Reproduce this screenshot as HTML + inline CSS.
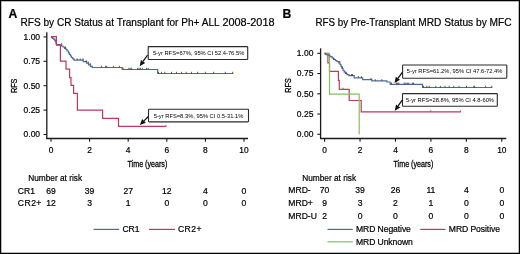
<!DOCTYPE html>
<html><head><meta charset="utf-8"><style>
html,body{margin:0;padding:0;background:#fff;}
body{width:520px;height:254px;overflow:hidden;}
svg{display:block;will-change:transform;font-family:"Liberation Sans", sans-serif;}
text{fill:#000;stroke:#000;stroke-width:0.2px;}
</style></head><body>
<svg width="520" height="254" viewBox="0 0 520 254">
<rect x="0" y="0" width="520" height="254" fill="#fff"/>
<rect x="1" y="1" width="518" height="252" fill="none" stroke="#777" stroke-width="1"/>
<rect x="0.5" y="0.5" width="519" height="253" fill="none" stroke="#000" stroke-width="1"/>
<text x="8.60" y="17.60" font-size="12.2" text-anchor="start" font-weight="bold" >A</text>
<text x="282.60" y="17.60" font-size="12.2" text-anchor="start" font-weight="bold" >B</text>
<text x="20.50" y="26.00" font-size="10.4" text-anchor="start" font-weight="normal" textLength="199.1" lengthAdjust="spacingAndGlyphs">RFS by CR Status at Transplant for Ph+ ALL</text>
<text x="222.40" y="26.00" font-size="10.4" text-anchor="start" font-weight="normal" textLength="52.2" lengthAdjust="spacingAndGlyphs">2008-2018</text>
<text x="315.40" y="26.00" font-size="10.4" text-anchor="start" font-weight="normal" textLength="99.8" lengthAdjust="spacingAndGlyphs">RFS by Pre-Transplant</text>
<text x="418.30" y="26.00" font-size="10.4" text-anchor="start" font-weight="normal" textLength="93.3" lengthAdjust="spacingAndGlyphs">MRD Status by MFC</text>
<line x1="46.8" y1="32.3" x2="46.8" y2="138.5" stroke="#1a1a1a" stroke-width="1.3"/>
<line x1="46.15" y1="138.5" x2="248.0" y2="138.5" stroke="#1a1a1a" stroke-width="1.3"/>
<line x1="43.5" y1="134.50" x2="46.8" y2="134.50" stroke="#1a1a1a" stroke-width="1.1"/>
<text x="40.10" y="137.40" font-size="8.5" text-anchor="end" font-weight="normal" >0.00</text>
<line x1="43.5" y1="110.10" x2="46.8" y2="110.10" stroke="#1a1a1a" stroke-width="1.1"/>
<text x="40.10" y="113.00" font-size="8.5" text-anchor="end" font-weight="normal" >0.25</text>
<line x1="43.5" y1="85.70" x2="46.8" y2="85.70" stroke="#1a1a1a" stroke-width="1.1"/>
<text x="40.10" y="88.60" font-size="8.5" text-anchor="end" font-weight="normal" >0.50</text>
<line x1="43.5" y1="61.30" x2="46.8" y2="61.30" stroke="#1a1a1a" stroke-width="1.1"/>
<text x="40.10" y="64.20" font-size="8.5" text-anchor="end" font-weight="normal" >0.75</text>
<line x1="43.5" y1="36.90" x2="46.8" y2="36.90" stroke="#1a1a1a" stroke-width="1.1"/>
<text x="40.10" y="39.80" font-size="8.5" text-anchor="end" font-weight="normal" >1.00</text>
<line x1="51.00" y1="138.5" x2="51.00" y2="141.7" stroke="#1a1a1a" stroke-width="1.1"/>
<text x="51.00" y="152.60" font-size="8.4" text-anchor="middle" font-weight="normal" >0</text>
<line x1="89.60" y1="138.5" x2="89.60" y2="141.7" stroke="#1a1a1a" stroke-width="1.1"/>
<text x="89.60" y="152.60" font-size="8.4" text-anchor="middle" font-weight="normal" >2</text>
<line x1="128.20" y1="138.5" x2="128.20" y2="141.7" stroke="#1a1a1a" stroke-width="1.1"/>
<text x="128.20" y="152.60" font-size="8.4" text-anchor="middle" font-weight="normal" >4</text>
<line x1="166.80" y1="138.5" x2="166.80" y2="141.7" stroke="#1a1a1a" stroke-width="1.1"/>
<text x="166.80" y="152.60" font-size="8.4" text-anchor="middle" font-weight="normal" >6</text>
<line x1="205.40" y1="138.5" x2="205.40" y2="141.7" stroke="#1a1a1a" stroke-width="1.1"/>
<text x="205.40" y="152.60" font-size="8.4" text-anchor="middle" font-weight="normal" >8</text>
<line x1="244.00" y1="138.5" x2="244.00" y2="141.7" stroke="#1a1a1a" stroke-width="1.1"/>
<text x="244.00" y="152.60" font-size="8.4" text-anchor="middle" font-weight="normal" >10</text>
<text transform="translate(13.5,85.8) rotate(-90) scale(0.75,1)" x="0" y="3.6" font-size="9.7" text-anchor="middle" style="stroke-width:0.3px">RFS</text>
<text transform="translate(147.4,167.0) scale(0.73,1)" x="0" y="0" font-size="9.8" text-anchor="middle" style="stroke-width:0.3px">Time (years)</text>
<line x1="320.6" y1="48.3" x2="320.6" y2="138.5" stroke="#1a1a1a" stroke-width="1.3"/>
<line x1="319.95000000000005" y1="138.5" x2="506.3" y2="138.5" stroke="#1a1a1a" stroke-width="1.3"/>
<line x1="317.3" y1="134.30" x2="320.6" y2="134.30" stroke="#1a1a1a" stroke-width="1.1"/>
<text x="313.40" y="137.20" font-size="8.5" text-anchor="end" font-weight="normal" >0.00</text>
<line x1="317.3" y1="114.05" x2="320.6" y2="114.05" stroke="#1a1a1a" stroke-width="1.1"/>
<text x="313.40" y="116.95" font-size="8.5" text-anchor="end" font-weight="normal" >0.25</text>
<line x1="317.3" y1="93.80" x2="320.6" y2="93.80" stroke="#1a1a1a" stroke-width="1.1"/>
<text x="313.40" y="96.70" font-size="8.5" text-anchor="end" font-weight="normal" >0.50</text>
<line x1="317.3" y1="73.55" x2="320.6" y2="73.55" stroke="#1a1a1a" stroke-width="1.1"/>
<text x="313.40" y="76.45" font-size="8.5" text-anchor="end" font-weight="normal" >0.75</text>
<line x1="317.3" y1="53.30" x2="320.6" y2="53.30" stroke="#1a1a1a" stroke-width="1.1"/>
<text x="313.40" y="56.20" font-size="8.5" text-anchor="end" font-weight="normal" >1.00</text>
<line x1="324.60" y1="138.5" x2="324.60" y2="141.7" stroke="#1a1a1a" stroke-width="1.1"/>
<text x="324.60" y="152.60" font-size="8.4" text-anchor="middle" font-weight="normal" >0</text>
<line x1="360.04" y1="138.5" x2="360.04" y2="141.7" stroke="#1a1a1a" stroke-width="1.1"/>
<text x="360.04" y="152.60" font-size="8.4" text-anchor="middle" font-weight="normal" >2</text>
<line x1="395.48" y1="138.5" x2="395.48" y2="141.7" stroke="#1a1a1a" stroke-width="1.1"/>
<text x="395.48" y="152.60" font-size="8.4" text-anchor="middle" font-weight="normal" >4</text>
<line x1="430.92" y1="138.5" x2="430.92" y2="141.7" stroke="#1a1a1a" stroke-width="1.1"/>
<text x="430.92" y="152.60" font-size="8.4" text-anchor="middle" font-weight="normal" >6</text>
<line x1="466.36" y1="138.5" x2="466.36" y2="141.7" stroke="#1a1a1a" stroke-width="1.1"/>
<text x="466.36" y="152.60" font-size="8.4" text-anchor="middle" font-weight="normal" >8</text>
<line x1="501.80" y1="138.5" x2="501.80" y2="141.7" stroke="#1a1a1a" stroke-width="1.1"/>
<text x="501.80" y="152.60" font-size="8.4" text-anchor="middle" font-weight="normal" >10</text>
<text transform="translate(287.6,85.5) rotate(-90) scale(0.75,1)" x="0" y="3.6" font-size="9.7" text-anchor="middle" style="stroke-width:0.3px">RFS</text>
<text transform="translate(413.4,167.0) scale(0.73,1)" x="0" y="0" font-size="9.8" text-anchor="middle" style="stroke-width:0.3px">Time (years)</text>
<path d="M50.9,36.9 H51.6 V37.7 H52.6 V38.4 H53.6 V39.2 H54.6 V40.2 H55.4 V41.5 H56.0 V43.2 H56.5 V44.6 H60.5 V45.2 H61.5 V46 H63 V47 H64.5 V48.3 H66 V49.5 H67 V51 H68.5 V52.8 H69.5 V54.5 H70.5 V56 H71.5 V57.5 H72.8 V58.8 H74 V60.1 H83.3 V61.7 H86.5 V63.2 H88.5 V64.8 H90.5 V66.3 H92.2 V67.5 H122.2 V69.5 H157.7 V73.5 H233.3" fill="none" stroke="#4c6a9f" stroke-width="1.2" stroke-linejoin="miter" stroke-linecap="butt"/>
<line x1="61.7" y1="42.9" x2="61.7" y2="44.6" stroke="#333" stroke-width="0.8"/>
<line x1="65.5" y1="46.6" x2="65.5" y2="48.3" stroke="#333" stroke-width="0.8"/>
<line x1="77.2" y1="58.4" x2="77.2" y2="60.1" stroke="#333" stroke-width="0.8"/>
<line x1="80.2" y1="58.4" x2="80.2" y2="60.1" stroke="#333" stroke-width="0.8"/>
<line x1="83.0" y1="58.4" x2="83.0" y2="60.1" stroke="#333" stroke-width="0.8"/>
<line x1="86.2" y1="60.0" x2="86.2" y2="61.7" stroke="#333" stroke-width="0.8"/>
<line x1="88.2" y1="61.5" x2="88.2" y2="63.2" stroke="#333" stroke-width="0.8"/>
<line x1="90.2" y1="63.1" x2="90.2" y2="64.8" stroke="#333" stroke-width="0.8"/>
<line x1="101.4" y1="65.8" x2="101.4" y2="67.5" stroke="#333" stroke-width="0.8"/>
<line x1="105.6" y1="65.8" x2="105.6" y2="67.5" stroke="#333" stroke-width="0.8"/>
<line x1="106.6" y1="65.8" x2="106.6" y2="67.5" stroke="#333" stroke-width="0.8"/>
<line x1="113.3" y1="65.8" x2="113.3" y2="67.5" stroke="#333" stroke-width="0.8"/>
<line x1="119.4" y1="65.8" x2="119.4" y2="67.5" stroke="#333" stroke-width="0.8"/>
<line x1="123.1" y1="67.8" x2="123.1" y2="69.5" stroke="#333" stroke-width="0.8"/>
<line x1="128.8" y1="67.8" x2="128.8" y2="69.5" stroke="#333" stroke-width="0.8"/>
<line x1="130.2" y1="67.8" x2="130.2" y2="69.5" stroke="#333" stroke-width="0.8"/>
<line x1="131.6" y1="67.8" x2="131.6" y2="69.5" stroke="#333" stroke-width="0.8"/>
<line x1="137.7" y1="67.8" x2="137.7" y2="69.5" stroke="#333" stroke-width="0.8"/>
<line x1="139.0" y1="67.8" x2="139.0" y2="69.5" stroke="#333" stroke-width="0.8"/>
<line x1="140.4" y1="67.8" x2="140.4" y2="69.5" stroke="#333" stroke-width="0.8"/>
<line x1="142.3" y1="67.8" x2="142.3" y2="69.5" stroke="#333" stroke-width="0.8"/>
<line x1="146.5" y1="67.8" x2="146.5" y2="69.5" stroke="#333" stroke-width="0.8"/>
<line x1="148.1" y1="67.8" x2="148.1" y2="69.5" stroke="#333" stroke-width="0.8"/>
<line x1="158.5" y1="71.8" x2="158.5" y2="73.5" stroke="#333" stroke-width="0.8"/>
<line x1="161.5" y1="71.8" x2="161.5" y2="73.5" stroke="#333" stroke-width="0.8"/>
<line x1="164.8" y1="71.8" x2="164.8" y2="73.5" stroke="#333" stroke-width="0.8"/>
<line x1="171.5" y1="71.8" x2="171.5" y2="73.5" stroke="#333" stroke-width="0.8"/>
<line x1="176.5" y1="71.8" x2="176.5" y2="73.5" stroke="#333" stroke-width="0.8"/>
<line x1="181.5" y1="71.8" x2="181.5" y2="73.5" stroke="#333" stroke-width="0.8"/>
<line x1="186.2" y1="71.8" x2="186.2" y2="73.5" stroke="#333" stroke-width="0.8"/>
<line x1="191.5" y1="71.8" x2="191.5" y2="73.5" stroke="#333" stroke-width="0.8"/>
<line x1="197.6" y1="71.8" x2="197.6" y2="73.5" stroke="#333" stroke-width="0.8"/>
<line x1="205.4" y1="71.8" x2="205.4" y2="73.5" stroke="#333" stroke-width="0.8"/>
<line x1="213.6" y1="71.8" x2="213.6" y2="73.5" stroke="#333" stroke-width="0.8"/>
<line x1="225.3" y1="71.8" x2="225.3" y2="73.5" stroke="#333" stroke-width="0.8"/>
<line x1="232.7" y1="71.8" x2="232.7" y2="73.5" stroke="#333" stroke-width="0.8"/>
<path d="M50.9,36.7 H56.4 V45.1 H60.4 V61.2 H66 V69.2 H69.6 V77.7 H71 V85.3 H73.6 V93.3 H77.4 V110.2 H102.6 V118.3 H118.5 V126.4 H166.2" fill="none" stroke="#bf395b" stroke-width="1.2" stroke-linejoin="miter" stroke-linecap="butt"/>
<line x1="166.0" y1="124.7" x2="166.0" y2="126.4" stroke="#bf395b" stroke-width="0.8"/>
<path d="M324.4,53.4 H327.9 V62.8 H329.5 V71.3 H338.4 V80.3 H339.3 V89.4 H349.2 V100.5 H361.2 V111.8 H460.8" fill="none" stroke="#bf395b" stroke-width="1.2" stroke-linejoin="miter" stroke-linecap="butt"/>
<line x1="343.0" y1="87.7" x2="343.0" y2="89.4" stroke="#bf395b" stroke-width="0.8"/>
<line x1="430.8" y1="110.1" x2="430.8" y2="111.8" stroke="#bf395b" stroke-width="0.8"/>
<line x1="460.6" y1="110.1" x2="460.6" y2="111.8" stroke="#bf395b" stroke-width="0.8"/>
<path d="M324.4,53.4 H329.5 V94.1 H359.2 V134.3" fill="none" stroke="#86bf62" stroke-width="1.2" stroke-linejoin="miter" stroke-linecap="butt"/>
<path d="M324.4,53.6 H325.5 V54.3 H327 V54.9 H328.9 V55.5 H330 V56.6 H332 V58 H333.5 V59.5 H335.5 V60.6 H337 V61.5 H338.8 V62.8 H340 V64.5 H341 V66.5 H342 V68.5 H343 V70.5 H344.2 V72.2 H345.5 V73.5 H347 V74.7 H349 V75.7 H354.2 V77.8 H362.7 V79.6 H371.8 V80.9 H386.8 V82.0 H390.2 V84.3 H422.5 V87.5 H492.2" fill="none" stroke="#4c6a9f" stroke-width="1.2" stroke-linejoin="miter" stroke-linecap="butt"/>
<line x1="334.0" y1="57.8" x2="334.0" y2="59.5" stroke="#333" stroke-width="0.8"/>
<line x1="339.7" y1="61.1" x2="339.7" y2="62.8" stroke="#333" stroke-width="0.8"/>
<line x1="342.3" y1="66.8" x2="342.3" y2="68.5" stroke="#333" stroke-width="0.8"/>
<line x1="346.3" y1="71.8" x2="346.3" y2="73.5" stroke="#333" stroke-width="0.8"/>
<line x1="351.5" y1="74.0" x2="351.5" y2="75.7" stroke="#333" stroke-width="0.8"/>
<line x1="352.5" y1="74.0" x2="352.5" y2="75.7" stroke="#333" stroke-width="0.8"/>
<line x1="358.4" y1="76.1" x2="358.4" y2="77.8" stroke="#333" stroke-width="0.8"/>
<line x1="361.4" y1="76.1" x2="361.4" y2="77.8" stroke="#333" stroke-width="0.8"/>
<line x1="371.0" y1="77.9" x2="371.0" y2="79.6" stroke="#333" stroke-width="0.8"/>
<line x1="375.3" y1="79.2" x2="375.3" y2="80.9" stroke="#333" stroke-width="0.8"/>
<line x1="381.8" y1="79.2" x2="381.8" y2="80.9" stroke="#333" stroke-width="0.8"/>
<line x1="391.5" y1="82.6" x2="391.5" y2="84.3" stroke="#333" stroke-width="0.8"/>
<line x1="396.5" y1="82.6" x2="396.5" y2="84.3" stroke="#333" stroke-width="0.8"/>
<line x1="397.7" y1="82.6" x2="397.7" y2="84.3" stroke="#333" stroke-width="0.8"/>
<line x1="398.8" y1="82.6" x2="398.8" y2="84.3" stroke="#333" stroke-width="0.8"/>
<line x1="404.2" y1="82.6" x2="404.2" y2="84.3" stroke="#333" stroke-width="0.8"/>
<line x1="405.8" y1="82.6" x2="405.8" y2="84.3" stroke="#333" stroke-width="0.8"/>
<line x1="407.3" y1="82.6" x2="407.3" y2="84.3" stroke="#333" stroke-width="0.8"/>
<line x1="408.8" y1="82.6" x2="408.8" y2="84.3" stroke="#333" stroke-width="0.8"/>
<line x1="412.3" y1="82.6" x2="412.3" y2="84.3" stroke="#333" stroke-width="0.8"/>
<line x1="413.5" y1="82.6" x2="413.5" y2="84.3" stroke="#333" stroke-width="0.8"/>
<line x1="423.5" y1="85.8" x2="423.5" y2="87.5" stroke="#333" stroke-width="0.8"/>
<line x1="426.9" y1="85.8" x2="426.9" y2="87.5" stroke="#333" stroke-width="0.8"/>
<line x1="429.2" y1="85.8" x2="429.2" y2="87.5" stroke="#333" stroke-width="0.8"/>
<line x1="435.8" y1="85.8" x2="435.8" y2="87.5" stroke="#333" stroke-width="0.8"/>
<line x1="440.4" y1="85.8" x2="440.4" y2="87.5" stroke="#333" stroke-width="0.8"/>
<line x1="445.0" y1="85.8" x2="445.0" y2="87.5" stroke="#333" stroke-width="0.8"/>
<line x1="449.2" y1="85.8" x2="449.2" y2="87.5" stroke="#333" stroke-width="0.8"/>
<line x1="453.8" y1="85.8" x2="453.8" y2="87.5" stroke="#333" stroke-width="0.8"/>
<line x1="459.0" y1="85.8" x2="459.0" y2="87.5" stroke="#333" stroke-width="0.8"/>
<line x1="466.5" y1="85.8" x2="466.5" y2="87.5" stroke="#333" stroke-width="0.8"/>
<line x1="473.8" y1="85.8" x2="473.8" y2="87.5" stroke="#333" stroke-width="0.8"/>
<line x1="474.6" y1="85.8" x2="474.6" y2="87.5" stroke="#333" stroke-width="0.8"/>
<line x1="485.4" y1="85.8" x2="485.4" y2="87.5" stroke="#333" stroke-width="0.8"/>
<line x1="491.9" y1="85.8" x2="491.9" y2="87.5" stroke="#333" stroke-width="0.8"/>
<rect x="148.2" y="46.6" width="99.5" height="12.899999999999999" rx="0.6" fill="#fff" stroke="#2a2a2a" stroke-width="1.1"/>
<text x="152.9" y="55.3" font-size="5.8" textLength="91.4" lengthAdjust="spacingAndGlyphs" style="stroke-width:0">5-yr RFS=67%, 95% CI 52.4-76.5%</text>
<line x1="147.6" y1="55.0" x2="143.04" y2="61.46" stroke="#111" stroke-width="1.25"/>
<path d="M139.70,66.20 L140.92,59.96 L145.17,62.96 Z" fill="#111"/>
<rect x="148.5" y="109.2" width="100.0" height="12.700000000000003" rx="0.6" fill="#fff" stroke="#2a2a2a" stroke-width="1.1"/>
<text x="153.7" y="117.7" font-size="5.8" textLength="89.6" lengthAdjust="spacingAndGlyphs" style="stroke-width:0">5-yr RFS=8.3%, 95% CI 0.5-31.1%</text>
<line x1="148.4" y1="116.5" x2="144.00" y2="120.90" stroke="#111" stroke-width="1.25"/>
<path d="M139.90,125.00 L142.16,119.06 L145.84,122.74 Z" fill="#111"/>
<rect x="402.6" y="65.0" width="104.19999999999999" height="13.200000000000003" rx="0.6" fill="#fff" stroke="#2a2a2a" stroke-width="1.1"/>
<text x="406.8" y="73.4" font-size="5.8" textLength="95.6" lengthAdjust="spacingAndGlyphs" style="stroke-width:0">5-yr RFS=61.2%, 95% CI 47.6-72.4%</text>
<line x1="402.3" y1="72.3" x2="397.92" y2="78.31" stroke="#111" stroke-width="1.25"/>
<path d="M394.50,83.00 L395.82,76.78 L400.02,79.84 Z" fill="#111"/>
<rect x="402.5" y="93.6" width="94.80000000000001" height="12.700000000000003" rx="0.6" fill="#fff" stroke="#2a2a2a" stroke-width="1.1"/>
<text x="406.0" y="101.9" font-size="5.8" textLength="88.0" lengthAdjust="spacingAndGlyphs" style="stroke-width:0">5-yr RFS=28.8%, 95% CI 4.8-60%</text>
<line x1="402.4" y1="99.9" x2="398.14" y2="105.96" stroke="#111" stroke-width="1.25"/>
<path d="M394.80,110.70 L396.01,104.46 L400.26,107.45 Z" fill="#111"/>
<text x="28.20" y="180.60" font-size="8.3" text-anchor="start" font-weight="normal" >Number at risk</text>
<text x="302.20" y="180.90" font-size="8.3" text-anchor="start" font-weight="normal" >Number at risk</text>
<text x="17.80" y="193.80" font-size="8.6" text-anchor="start" font-weight="normal" >CR1</text>
<text x="51.00" y="193.80" font-size="8.6" text-anchor="middle" font-weight="normal" >69</text>
<text x="89.60" y="193.80" font-size="8.6" text-anchor="middle" font-weight="normal" >39</text>
<text x="128.20" y="193.80" font-size="8.6" text-anchor="middle" font-weight="normal" >27</text>
<text x="166.80" y="193.80" font-size="8.6" text-anchor="middle" font-weight="normal" >12</text>
<text x="205.40" y="193.80" font-size="8.6" text-anchor="middle" font-weight="normal" >4</text>
<text x="244.00" y="193.80" font-size="8.6" text-anchor="middle" font-weight="normal" >0</text>
<text x="17.80" y="206.40" font-size="8.6" text-anchor="start" font-weight="normal" textLength="23.6" lengthAdjust="spacing">CR2+</text>
<text x="51.00" y="206.40" font-size="8.6" text-anchor="middle" font-weight="normal" >12</text>
<text x="89.60" y="206.40" font-size="8.6" text-anchor="middle" font-weight="normal" >3</text>
<text x="128.20" y="206.40" font-size="8.6" text-anchor="middle" font-weight="normal" >1</text>
<text x="166.80" y="206.40" font-size="8.6" text-anchor="middle" font-weight="normal" >0</text>
<text x="205.40" y="206.40" font-size="8.6" text-anchor="middle" font-weight="normal" >0</text>
<text x="244.00" y="206.40" font-size="8.6" text-anchor="middle" font-weight="normal" >0</text>
<text x="288.30" y="193.30" font-size="8.6" text-anchor="start" font-weight="normal" >MRD-</text>
<text x="324.60" y="193.30" font-size="8.6" text-anchor="middle" font-weight="normal" >70</text>
<text x="360.04" y="193.30" font-size="8.6" text-anchor="middle" font-weight="normal" >39</text>
<text x="395.48" y="193.30" font-size="8.6" text-anchor="middle" font-weight="normal" >26</text>
<text x="430.92" y="193.30" font-size="8.6" text-anchor="middle" font-weight="normal" >11</text>
<text x="466.36" y="193.30" font-size="8.6" text-anchor="middle" font-weight="normal" >4</text>
<text x="501.80" y="193.30" font-size="8.6" text-anchor="middle" font-weight="normal" >0</text>
<text x="288.30" y="206.40" font-size="8.6" text-anchor="start" font-weight="normal" >MRD+</text>
<text x="324.60" y="206.40" font-size="8.6" text-anchor="middle" font-weight="normal" >9</text>
<text x="360.04" y="206.40" font-size="8.6" text-anchor="middle" font-weight="normal" >3</text>
<text x="395.48" y="206.40" font-size="8.6" text-anchor="middle" font-weight="normal" >2</text>
<text x="430.92" y="206.40" font-size="8.6" text-anchor="middle" font-weight="normal" >1</text>
<text x="466.36" y="206.40" font-size="8.6" text-anchor="middle" font-weight="normal" >0</text>
<text x="501.80" y="206.40" font-size="8.6" text-anchor="middle" font-weight="normal" >0</text>
<text x="288.30" y="218.80" font-size="8.6" text-anchor="start" font-weight="normal" >MRD-U</text>
<text x="324.60" y="218.80" font-size="8.6" text-anchor="middle" font-weight="normal" >2</text>
<text x="360.04" y="218.80" font-size="8.6" text-anchor="middle" font-weight="normal" >0</text>
<text x="395.48" y="218.80" font-size="8.6" text-anchor="middle" font-weight="normal" >0</text>
<text x="430.92" y="218.80" font-size="8.6" text-anchor="middle" font-weight="normal" >0</text>
<text x="466.36" y="218.80" font-size="8.6" text-anchor="middle" font-weight="normal" >0</text>
<text x="501.80" y="218.80" font-size="8.6" text-anchor="middle" font-weight="normal" >0</text>
<line x1="93.5" y1="229.4" x2="119.1" y2="229.4" stroke="#4c6a9f" stroke-width="1.2"/>
<text x="122.40" y="232.00" font-size="8.6" text-anchor="start" font-weight="normal" >CR1</text>
<line x1="149.0" y1="229.4" x2="175.0" y2="229.4" stroke="#bf395b" stroke-width="1.2"/>
<text x="177.90" y="232.00" font-size="8.6" text-anchor="start" font-weight="normal" textLength="23.6" lengthAdjust="spacing">CR2+</text>
<line x1="327.5" y1="229.4" x2="352.8" y2="229.4" stroke="#4c6a9f" stroke-width="1.2"/>
<text x="356.00" y="232.00" font-size="8.6" text-anchor="start" font-weight="normal" textLength="54.9" lengthAdjust="spacing">MRD Negative</text>
<line x1="420.2" y1="229.4" x2="445.5" y2="229.4" stroke="#bf395b" stroke-width="1.2"/>
<text x="448.80" y="232.00" font-size="8.6" text-anchor="start" font-weight="normal" textLength="51.2" lengthAdjust="spacing">MRD Positive</text>
<line x1="327.5" y1="241.8" x2="352.8" y2="241.8" stroke="#86bf62" stroke-width="1.2"/>
<text x="356.00" y="244.60" font-size="8.6" text-anchor="start" font-weight="normal" textLength="56.8" lengthAdjust="spacing">MRD Unknown</text>
</svg>
</body></html>
